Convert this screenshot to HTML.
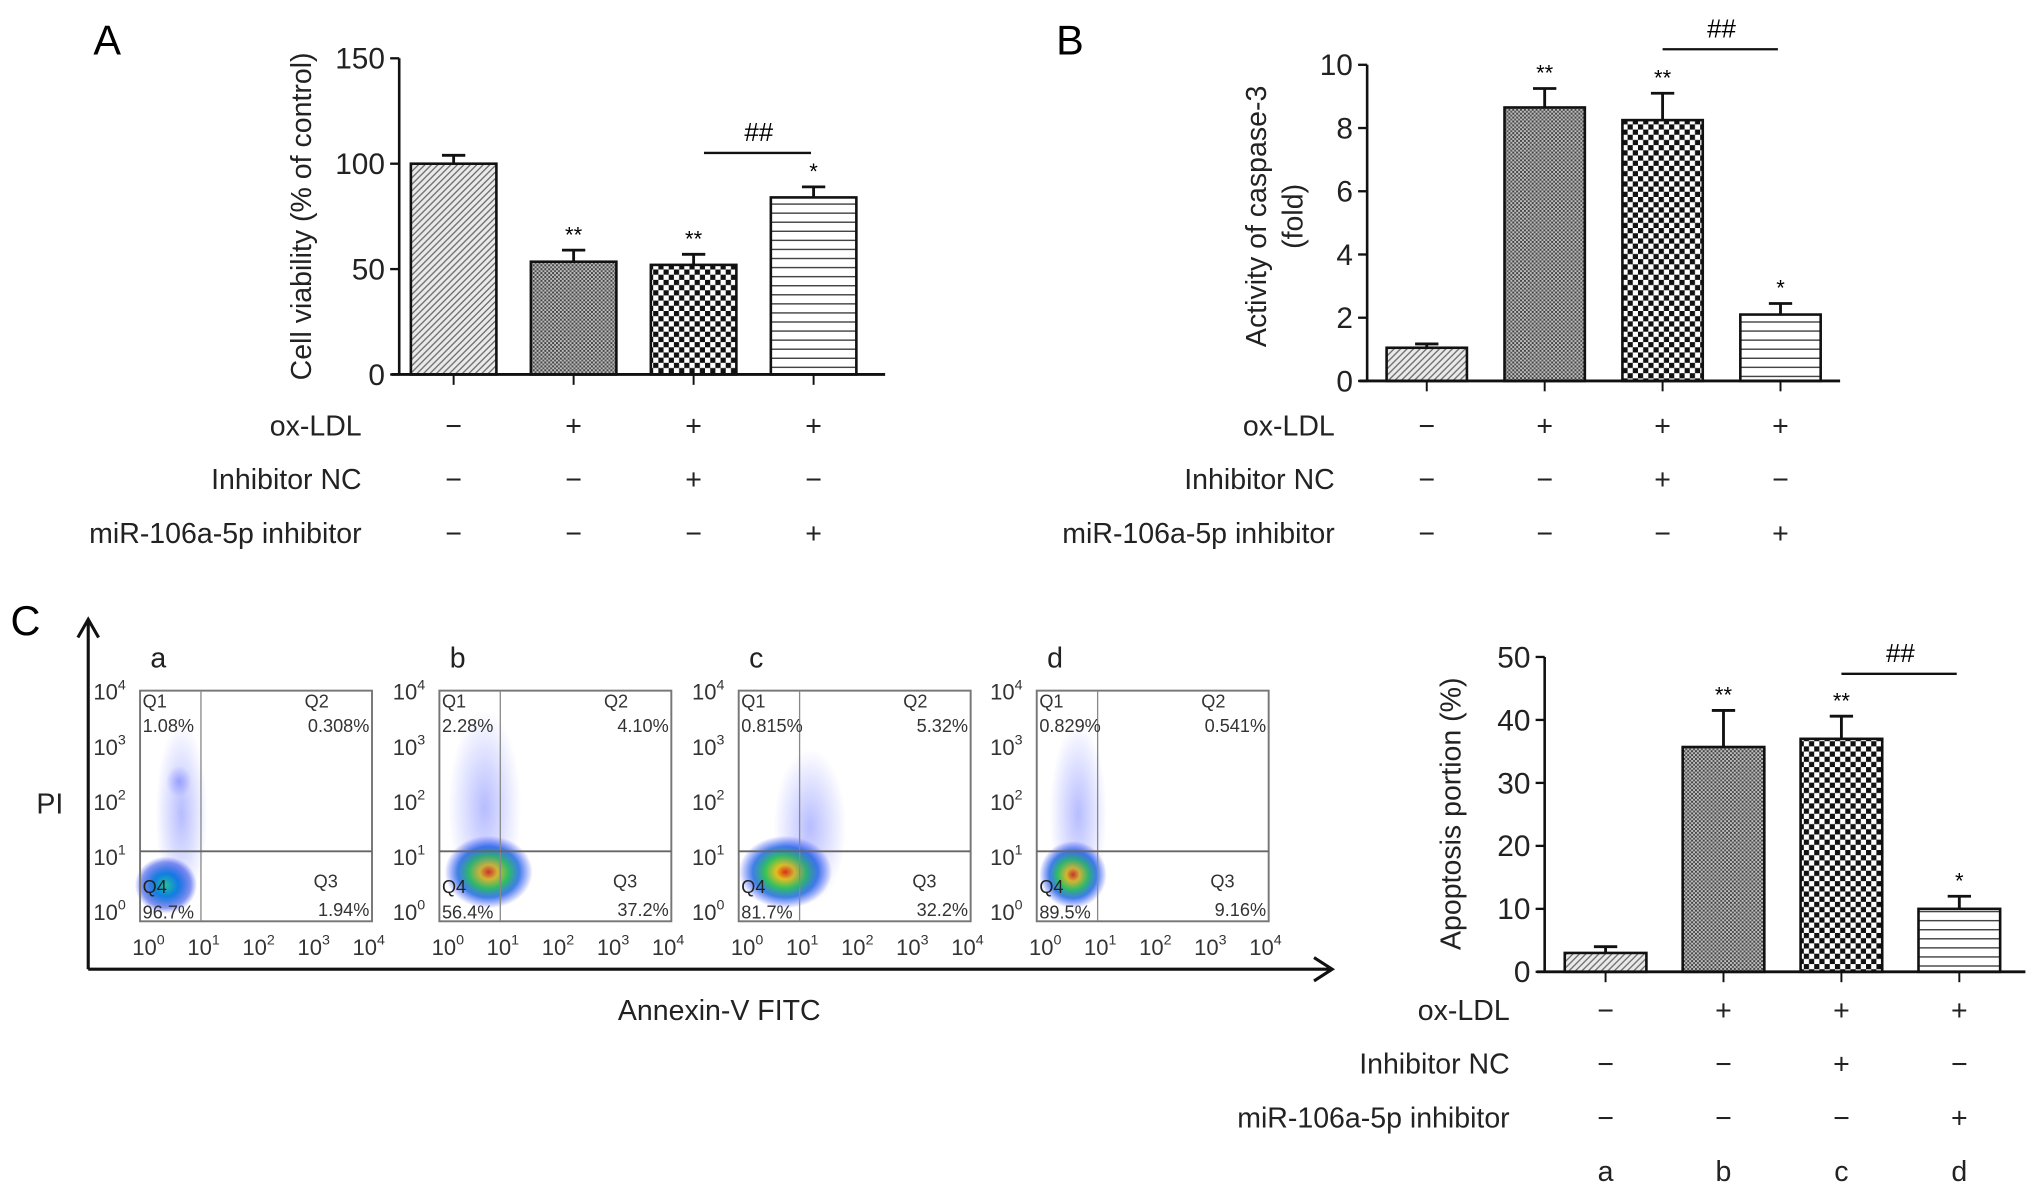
<!DOCTYPE html>
<html><head><meta charset="utf-8"><style>
html,body{margin:0;padding:0;background:#fff;}
svg{display:block;font-family:"Liberation Sans",sans-serif;}
</style></head><body>
<svg id="fig" width="2032" height="1196" viewBox="0 0 1568 923" xmlns="http://www.w3.org/2000/svg">
<defs>
<pattern id="pDiag" width="5" height="5" patternUnits="userSpaceOnUse"><rect width="5" height="5" fill="#eaeaea"/><path d="M-1,6 L6,-1 M-1,1 L1,-1 M4,6 L6,4" stroke="#666" stroke-width="1"/></pattern>
<pattern id="pDense" width="3" height="3" patternUnits="userSpaceOnUse"><rect width="3" height="3" fill="#bcbcbc"/><rect width="1.5" height="1.5" fill="#444"/><rect x="1.5" y="1.5" width="1.5" height="1.5" fill="#555"/></pattern>
<pattern id="pCheck" width="8" height="8" patternUnits="userSpaceOnUse"><rect width="8" height="8" fill="#fff"/><rect width="4" height="4" fill="#111"/><rect x="4" y="4" width="4" height="4" fill="#111"/></pattern>
<pattern id="pHoriz" width="8" height="7" patternUnits="userSpaceOnUse"><rect width="8" height="7" fill="#fff"/><line x1="0" y1="3.5" x2="8" y2="3.5" stroke="#444" stroke-width="1.1"/></pattern>
<radialGradient id="gDens"><stop offset="0" stop-color="#e03010"/><stop offset="0.2" stop-color="#e0c020"/><stop offset="0.45" stop-color="#30c060"/><stop offset="0.7" stop-color="#1060e0" stop-opacity="0.8"/><stop offset="1" stop-color="#2030ff" stop-opacity="0"/></radialGradient>
<radialGradient id="gDensA"><stop offset="0" stop-color="#20c0a0"/><stop offset="0.4" stop-color="#1080e0"/><stop offset="0.8" stop-color="#1030e0" stop-opacity="0.5"/><stop offset="1" stop-color="#2030ff" stop-opacity="0"/></radialGradient>
<radialGradient id="gSparse"><stop offset="0" stop-color="#3040ff" stop-opacity="0.35"/><stop offset="1" stop-color="#3040ff" stop-opacity="0"/></radialGradient>
</defs>
<g id="root"></g>
</svg>
<script>
const NS="http://www.w3.org/2000/svg";
const root=document.getElementById('root');
function mk(tag,attrs,parent,txt){const e=document.createElementNS(NS,tag);for(const k in attrs)e.setAttribute(k,attrs[k]);if(txt!==undefined)e.textContent=txt;(parent||root).appendChild(e);return e;}

// ---- data ----
const groups=["a","b","c","d"];
const rowLabels=["ox-LDL","Inhibitor NC","miR-106a-5p inhibitor"];
const oxLDL=["−","+","+","+"];
const inhNC=["−","−","+","−"];
const miRInh=["−","−","−","+"];
const viabilityMeans=[100,53.5,52,84];
const viabilityErr=[4,5.5,5,5];
const viabilityTicks=[0,50,100,150];
const viabilitySig=["","**","**","*"];
const caspaseMeans=[1.05,8.65,8.25,2.1];
const caspaseErr=[0.12,0.6,0.85,0.35];
const caspaseTicks=[0,2,4,6,8,10];
const caspaseSig=["","**","**","*"];
const apoptosisMeans=[3,35.7,37,10];
const apoptosisErr=[1,5.8,3.6,2];
const apoptosisTicks=[0,10,20,30,40,50];
const apoptosisSig=["","**","**","*"];
const fills=["url(#pDiag)","url(#pDense)","url(#pCheck)","url(#pHoriz)"];
const flowQ1=["1.08%","2.28%","0.815%","0.829%"];
const flowQ2=["0.308%","4.10%","5.32%","0.541%"];
const flowQ3=["1.94%","37.2%","32.2%","9.16%"];
const flowQ4=["96.7%","56.4%","81.7%","89.5%"];

function barChart(o){
  const g=mk('g',{});
  
  
  const y=v=>o.y0-(v-o.ticks[0])/(o.ticks[o.ticks.length-1]-o.ticks[0])*(o.y0-o.y1);
  const x=i=>o.cx0+i*o.step;
  o.means.forEach((m,i)=>{
    const top=y(m+o.err[i]);
    const eb=mk('path',{d:`M${x(i)},${y(m)} V${top} M${x(i)-9},${top} H${x(i)+9}`,stroke:'#111','stroke-width':2.2,fill:'none'},g);
    
    
    const r=mk('rect',{x:x(i)-o.bw/2,y:y(m),width:o.bw,height:y(0)-y(m),fill:fills[i],stroke:'#111','stroke-width':2},g);
    
    
    if(o.sig[i]){
      const s=mk('text',{x:x(i),y:top-6,'text-anchor':'middle','font-size':17},g,o.sig[i]);
      
      
    }
    mk('line',{x1:x(i),x2:x(i),y1:o.y0,y2:o.y0+8,stroke:'#111','stroke-width':1.5},g);
  });
  const ax=mk('line',{x1:o.ax,x2:o.ax,y1:o.y1,y2:o.y0,stroke:'#111','stroke-width':2},g);
  
  
  const bx=mk('line',{x1:o.ax-6,x2:o.axEnd,y1:o.y0,y2:o.y0,stroke:'#111','stroke-width':2.2},g);
  
  
  o.ticks.forEach(t=>{
    mk('line',{x1:o.ax-7,x2:o.ax,y1:y(t),y2:y(t),stroke:'#111','stroke-width':1.8},g);
    const tl=mk('text',{x:o.ax-11,y:y(t)+8,'text-anchor':'end','font-size':23,fill:'#222'},g,String(t));
    
    
  });
  o.title.forEach((t,k)=>{
    const tt=mk('text',{x:0,y:0,'text-anchor':'middle','font-size':22,fill:'#222',transform:`translate(${o.titleX+k*28},${o.titleY}) rotate(-90)`},g,t);
    
    
  });
  const br=mk('line',{x1:x(2)+o.brOff,x2:x(3)-2,y1:o.brY,y2:o.brY,stroke:'#111','stroke-width':1.8},g);
  
  
  const hs=mk('text',{x:(x(2)+x(3))/2+o.brOff/2,y:o.brY-9,'text-anchor':'middle','font-size':20},g,'##');
  
  
  [oxLDL,inhNC,miRInh].forEach((row,r)=>{
    const ry=o.rowY+r*41.5;
    const lab=mk('text',{x:o.labX,y:ry+8,'text-anchor':'end','font-size':22,fill:'#222'},g,rowLabels[r]);
    
    
    row.forEach((s,i)=>{
      const st=mk('text',{x:x(i),y:ry+8,'text-anchor':'middle','font-size':22,fill:'#222'},g,s);
      
      
    });
  });
  if(o.letters){groups.forEach((l,i)=>{const t=mk('text',{x:x(i),y:o.rowY+3*41.5+8,'text-anchor':'middle','font-size':22,fill:'#222'},g,l);
    
    });}
}

barChart({name:'cell-viability-chart',means:viabilityMeans,err:viabilityErr,ticks:viabilityTicks,sig:viabilitySig,
  y0:289,y1:45,ax:308,axEnd:683,cx0:350,step:92.6,bw:66,title:["Cell viability (% of control)"],titleX:240,titleY:167,
  brOff:8,brY:118,rowY:328,labX:279});
barChart({name:'caspase-3-chart',means:caspaseMeans,err:caspaseErr,ticks:caspaseTicks,sig:caspaseSig,
  y0:294,y1:50,ax:1055,axEnd:1420,cx0:1101,step:91,bw:62,title:["Activity of caspase-3","(fold)"],titleX:977,titleY:167,
  brOff:0,brY:38,rowY:328,labX:1030});
barChart({name:'apoptosis-chart',means:apoptosisMeans,err:apoptosisErr,ticks:apoptosisTicks,sig:apoptosisSig,
  y0:750,y1:507,ax:1192,axEnd:1563,cx0:1239,step:91,bw:63,title:["Apoptosis portion (%)"],titleX:1127,titleY:628,
  brOff:0,brY:520,rowY:779,labX:1165,letters:true});

[["A",72,42],["B",815,42],["C",8,490]].forEach(p=>{const t=mk('text',{x:p[1],y:p[2],'font-size':32},root,p[0]);
  
  });

const fg=mk('g',{});


const va=mk('path',{d:'M68,748 V478 M60,492 L68,478 L76,492',stroke:'#111','stroke-width':2.4,fill:'none'},fg);


const ha=mk('path',{d:'M68,748 H1028 M1014,739 L1028,748 L1014,757',stroke:'#111','stroke-width':2.4,fill:'none'},fg);


const pl=mk('text',{x:28,y:628,'font-size':22,fill:'#222'},fg,'PI');


const al=mk('text',{x:555,y:787,'text-anchor':'middle','font-size':22,fill:'#222'},fg,'Annexin-V FITC');


const boxX=[108,339,570,800], bwid=179, by0=533, by1=711;
const blobs=[
 [{cx:20,cy:150,rx:24,ry:22,f:'gDensA'},{cx:32,cy:95,rx:20,ry:70,f:'gSparse'},{cx:30,cy:70,rx:10,ry:12,f:'gSparse'}],
 [{cx:38,cy:140,rx:34,ry:28,f:'gDens'},{cx:35,cy:90,rx:28,ry:75,f:'gSparse'}],
 [{cx:36,cy:140,rx:36,ry:28,f:'gDens'},{cx:55,cy:105,rx:28,ry:60,f:'gSparse'}],
 [{cx:28,cy:142,rx:26,ry:26,f:'gDens'},{cx:32,cy:95,rx:22,ry:70,f:'gSparse'}]];
boxX.forEach((bx,i)=>{
  const p=mk('g',{},fg);
  
  
  blobs[i].forEach(b=>mk('ellipse',{cx:bx+b.cx,cy:by0+b.cy,rx:b.rx,ry:b.ry,fill:`url(#${b.f})`},p));
  mk('rect',{x:bx,y:by0,width:bwid,height:by1-by0,fill:'none',stroke:'#777','stroke-width':1.5},p);
  mk('line',{x1:bx+47,x2:bx+47,y1:by0,y2:by1,stroke:'#888','stroke-width':1},p);
  mk('line',{x1:bx,x2:bx+bwid,y1:657,y2:657,stroke:'#666','stroke-width':1.5},p);
  mk('text',{x:bx+8,y:by0-18,'font-size':22,fill:'#222'},p,groups[i]);
  const fs=14;
  mk('text',{x:bx+2,y:by0+13,'font-size':fs,fill:'#333'},p,'Q1');
  mk('text',{x:bx+2,y:by0+32,'font-size':fs,fill:'#333'},p,flowQ1[i]);
  mk('text',{x:bx+bwid-52,y:by0+13,'font-size':fs,fill:'#333'},p,'Q2');
  mk('text',{x:bx+bwid-2,y:by0+32,'text-anchor':'end','font-size':fs,fill:'#333'},p,flowQ2[i]);
  mk('text',{x:bx+bwid-45,y:by0+152,'font-size':fs,fill:'#333'},p,'Q3');
  mk('text',{x:bx+bwid-2,y:by0+174,'text-anchor':'end','font-size':fs,fill:'#333'},p,flowQ3[i]);
  mk('text',{x:bx+2,y:by0+156,'font-size':fs,fill:'#222'},p,'Q4');
  mk('text',{x:bx+2,y:by0+176,'font-size':fs,fill:'#333'},p,flowQ4[i]);
  for(let k=0;k<=4;k++){
    const ty=by1-1-k*42.5;
    const t=mk('text',{x:bx-36,y:ty,'font-size':17,fill:'#333'},p,'10');
    mk('tspan',{dy:-8,'font-size':11},t,String(k));
    const tx=bx+k*42.5;
    const t2=mk('text',{x:tx-6,y:by1+26,'font-size':17,fill:'#333'},p,'10');
    mk('tspan',{dy:-8,'font-size':11},t2,String(k));
  }
});
</script>
</body></html>
